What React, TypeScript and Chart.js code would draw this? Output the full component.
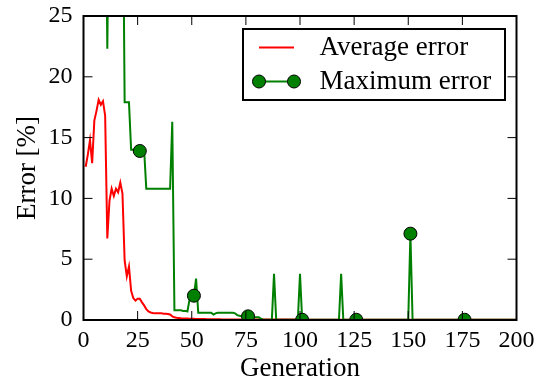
import React, { useEffect, useRef } from "react";
import { Chart, registerables } from "chart.js";

Chart.register(...registerables);

// ---- data ----
const generations: number[] = Array.from({ length: 201 }, (_, i) => i + 1);

const averageError: number[] = [
  12.6, 13.6, 14.8, 12.9, 16.4, 17.2, 18.1, 17.7, 18.0, 16.8,
  6.7, 9.8, 10.8, 10.2, 10.8, 10.5, 11.3, 10.4, 4.9, 3.6,
  4.4, 2.4, 1.8, 1.6, 1.75, 1.75, 1.45, 1.2, 0.9, 0.7,
  0.62, 0.58, 0.55, 0.55, 0.55, 0.55, 0.52, 0.52, 0.5, 0.45,
  0.3, 0.22, 0.18, 0.16, 0.14, 0.13, 0.12, 0.12, 0.11, 0.1,
  0.1, 0.09, 0.09, 0.08, 0.08, 0.08, 0.07, 0.07, 0.07, 0.06,
  0.06, 0.06, 0.06, 0.05, 0.05, 0.05, 0.05, 0.05, 0.05, 0.05,
  0.04, 0.04, 0.04, 0.04, 0.04, 0.04, 0.04, 0.04, 0.04, 0.04,
  0.04, 0.04, 0.04, 0.04, 0.04, 0.04, 0.04, 0.04, 0.04, 0.04,
  0.04, 0.04, 0.04, 0.04, 0.04, 0.04, 0.04, 0.04, 0.04, 0.04,
  0.03, 0.03, 0.03, 0.03, 0.03, 0.03, 0.03, 0.03, 0.03, 0.03,
  0.03, 0.03, 0.03, 0.03, 0.03, 0.03, 0.03, 0.03, 0.03, 0.03,
  0.03, 0.03, 0.03, 0.03, 0.03, 0.03, 0.03, 0.03, 0.03, 0.03,
  0.03, 0.03, 0.03, 0.03, 0.03, 0.03, 0.03, 0.03, 0.03, 0.03,
  0.03, 0.03, 0.03, 0.03, 0.03, 0.03, 0.03, 0.03, 0.03, 0.03,
  0.02, 0.02, 0.02, 0.02, 0.02, 0.02, 0.02, 0.02, 0.02, 0.02,
  0.02, 0.02, 0.02, 0.02, 0.02, 0.02, 0.02, 0.02, 0.02, 0.02,
  0.02, 0.02, 0.02, 0.02, 0.02, 0.02, 0.02, 0.02, 0.02, 0.02,
  0.02, 0.02, 0.02, 0.02, 0.02, 0.02, 0.02, 0.02, 0.02, 0.02,
  0.02, 0.02, 0.02, 0.02, 0.02, 0.02, 0.02, 0.02, 0.02, 0.02,
  0.02,
];

const maximumError: number[] = [
  40, 40, 40, 40, 40, 40, 40, 40, 40, 40,
  22.3, 40, 40, 40, 40, 40, 40, 40, 17.9, 17.9,
  17.9, 14.0, 14.0, 14.0, 14.0, 13.9, 14.0, 14.0, 10.8, 10.8,
  10.8, 10.8, 10.8, 10.8, 10.8, 10.8, 10.8, 10.8, 10.8, 10.8,
  16.3, 0.8, 0.8, 0.8, 0.8, 0.75, 0.75, 0.7, 1.7, 1.85,
  2.0, 3.4, 0.6, 0.6, 0.6, 0.6, 0.6, 0.6, 0.6, 0.45,
  0.55, 0.6, 0.6, 0.6, 0.6, 0.6, 0.6, 0.6, 0.6, 0.55,
  0.4, 0.35, 0.3, 0.3, 0.3, 0.3, 0.22, 0.22, 0.22, 0.22,
  0.22, 0.1, 0.02, 0.02, 0.02, 0.02, 0.02, 3.8, 0.02, 0.02,
  0.02, 0.02, 0.02, 0.02, 0.02, 0.02, 0.02, 0.02, 0.02, 3.8,
  0.02, 0.02, 0.02, 0.02, 0.02, 0.02, 0.02, 0.02, 0.02, 0.02,
  0.02, 0.02, 0.02, 0.02, 0.02, 0.02, 0.02, 0.02, 3.8, 0.02,
  0.02, 0.02, 0.02, 0.02, 0.02, 0.02, 0.02, 0.02, 0.02, 0.02,
  0.02, 0.02, 0.02, 0.02, 0.02, 0.02, 0.02, 0.02, 0.02, 0.02,
  0.02, 0.02, 0.02, 0.02, 0.02, 0.02, 0.02, 0.02, 0.02, 0.02,
  7.1, 0.02, 0.02, 0.02, 0.02, 0.02, 0.02, 0.02, 0.02, 0.02,
  0.02, 0.02, 0.02, 0.02, 0.02, 0.02, 0.02, 0.02, 0.02, 0.02,
  0.02, 0.02, 0.02, 0.02, 0.02, 0.02, 0.02, 0.02, 0.02, 0.02,
  0.02, 0.02, 0.02, 0.02, 0.02, 0.02, 0.02, 0.02, 0.02, 0.02,
  0.02, 0.02, 0.02, 0.02, 0.02, 0.02, 0.02, 0.02, 0.02, 0.02,
  0.02,
];

const seriesNames = ["Average error", "Maximum error"];
const xTitle = "Generation";
const yTitle = "Error [%]";
const xRange = [0, 200];
const yRange = [0, 25];
const markEvery = 25;

const RED = "#ff0000";
const GREEN = "#008000";
const FONT = "'Liberation Serif', 'Times New Roman', serif";

const framePlugin = {
  id: "mplFrame",
  afterDraw(chart: any) {
    const { ctx, chartArea: a, scales } = chart;
    ctx.save();
    // inward ticks on all four sides
    ctx.strokeStyle = "#000";
    ctx.lineWidth = 1;
    const L = 9;
    scales.x.ticks.forEach((t: any) => {
      const px = scales.x.getPixelForValue(t.value);
      ctx.beginPath();
      ctx.moveTo(px, a.bottom);
      ctx.lineTo(px, a.bottom - L);
      ctx.moveTo(px, a.top);
      ctx.lineTo(px, a.top + L);
      ctx.stroke();
    });
    scales.y.ticks.forEach((t: any) => {
      const py = scales.y.getPixelForValue(t.value);
      ctx.beginPath();
      ctx.moveTo(a.left, py);
      ctx.lineTo(a.left + L, py);
      ctx.moveTo(a.right, py);
      ctx.lineTo(a.right - L, py);
      ctx.stroke();
    });
    // frame
    ctx.lineWidth = 2;
    ctx.strokeRect(a.left, a.top, a.right - a.left, a.bottom - a.top);

    // legend (inside, upper right)
    const bw = 262;
    const bh = 71;
    const bx = a.right - 11.5 - bw;
    const by = a.top + 13;
    ctx.fillStyle = "#fff";
    ctx.fillRect(bx, by, bw, bh);
    ctx.lineWidth = 2;
    ctx.strokeStyle = "#000";
    ctx.strokeRect(bx, by, bw, bh);

    const r1 = by + 18.5;
    const r2 = by + 52.5;
    const lx0 = bx + 16;
    const lx1 = bx + 51;
    ctx.lineWidth = 2;
    ctx.strokeStyle = RED;
    ctx.beginPath();
    ctx.moveTo(lx0, r1);
    ctx.lineTo(lx1, r1);
    ctx.stroke();
    ctx.strokeStyle = GREEN;
    ctx.beginPath();
    ctx.moveTo(lx0, r2);
    ctx.lineTo(lx1, r2);
    ctx.stroke();
    [lx0, lx1].forEach((mx) => {
      ctx.beginPath();
      ctx.arc(mx, r2, 6.5, 0, Math.PI * 2);
      ctx.fillStyle = GREEN;
      ctx.fill();
      ctx.lineWidth = 1;
      ctx.strokeStyle = "#000";
      ctx.stroke();
    });
    ctx.fillStyle = "#000";
    ctx.font = `27px ${FONT}`;
    ctx.textBaseline = "middle";
    ctx.textAlign = "left";
    ctx.fillText(seriesNames[0], bx + 76.5, r1);
    ctx.fillText(seriesNames[1], bx + 76.5, r2);
    ctx.restore();
  },
};

export default function App() {
  const ref = useRef<HTMLCanvasElement | null>(null);
  useEffect(() => {
    if (!ref.current) return;
    const chart = new Chart(ref.current, {
      type: "line",
      data: {
        datasets: [
          {
            label: seriesNames[0],
            data: generations.map((g, i) => ({ x: g, y: averageError[i] })),
            borderColor: RED,
            borderWidth: 2,
            pointRadius: 0,
            tension: 0,
            clip: 0,
            order: 1,
          },
          {
            label: seriesNames[1],
            data: generations.map((g, i) => ({ x: g, y: maximumError[i] })),
            borderColor: GREEN,
            borderWidth: 2,
            pointRadius: (c: any) => (c.dataIndex % markEvery === 0 ? 6.5 : 0),
            pointBackgroundColor: GREEN,
            pointBorderColor: "#000",
            pointBorderWidth: 1,
            tension: 0,
            clip: 0,
            order: 0,
          },
        ],
      },
      options: {
        responsive: false,
        animation: false,
        devicePixelRatio: 1,
        layout: { padding: { left: 0, right: 20.5, top: 16, bottom: 0 } },
        plugins: { legend: { display: false }, tooltip: { enabled: false } },
        scales: {
          x: {
            type: "linear",
            min: xRange[0],
            max: xRange[1],
            grid: { display: false, drawTicks: false },
            border: { display: false },
            ticks: {
              stepSize: 25,
              color: "#000",
              padding: 6,
              font: { family: FONT, size: 24 },
              maxRotation: 0,
            },
            title: {
              display: true,
              text: xTitle,
              color: "#000",
              font: { family: FONT, size: 27, lineHeight: 1 },
              padding: { top: 0, bottom: 1 },
            },
            afterFit: (s: any) => {
              s.height = 63;
              s.paddingLeft = 0;
              s.paddingRight = 0;
            },
          },
          y: {
            min: yRange[0],
            max: yRange[1],
            grid: { display: false, drawTicks: false },
            border: { display: false },
            ticks: {
              stepSize: 5,
              color: "#000",
              padding: 11,
              font: { family: FONT, size: 24 },
            },
            title: {
              display: true,
              text: yTitle,
              color: "#000",
              font: { family: FONT, size: 27, lineHeight: 1 },
              padding: { top: 14, bottom: 0 },
            },
            afterFit: (s: any) => {
              s.width = 83.5;
              s.paddingTop = 0;
              s.paddingBottom = 0;
            },
          },
        },
      },
      plugins: [framePlugin],
    });
    return () => chart.destroy();
  }, []);
  return (
    <div style={{ position: "fixed", left: 0, top: 0, width: 537, height: 383, background: "#fff" }}>
      <canvas ref={ref} width={537} height={383} />
    </div>
  );
}
